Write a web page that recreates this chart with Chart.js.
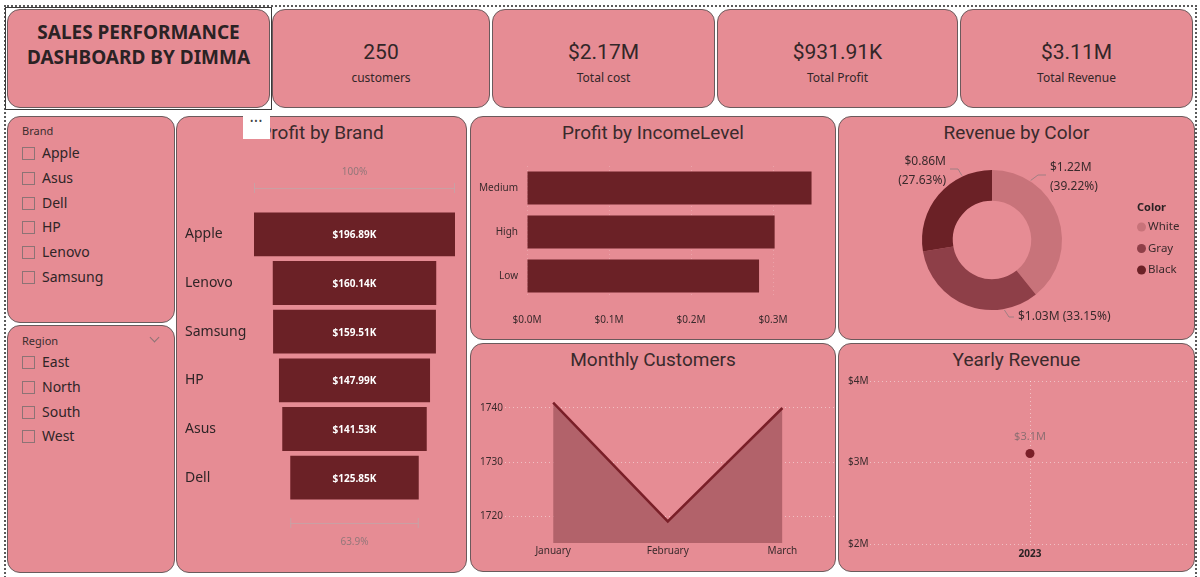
<!DOCTYPE html>
<html>
<head>
<meta charset="utf-8">
<script src="https://cdn.jsdelivr.net/npm/chart.js@4.4.1/dist/chart.umd.min.js"></script>
<style>
  html,body{margin:0;padding:0;background:#fff;}
  body{width:1200px;height:577px;overflow:hidden;position:relative;font-family:"Noto Sans","Open Sans",sans-serif;color:#2f2527;}
  .abs{position:absolute;}
  .card{position:absolute;background:#E68C94;border:1px solid #6b5a5c;border-radius:13px;box-sizing:border-box;}
  .outer{position:absolute;left:4px;top:5px;width:1193px;height:620px;border:2px dotted #5a5a5a;box-sizing:border-box;}
  .sel{position:absolute;left:5px;top:7px;width:267px;height:103px;border:1px solid #3a3a3a;box-sizing:border-box;}
  .ctitle{position:absolute;text-align:center;font-family:Roboto,sans-serif;font-size:19px;color:#3a2a2c;line-height:22px;}
  .kval{position:absolute;text-align:center;font-family:Roboto,sans-serif;font-size:21px;color:#332628;line-height:24px;}
  .klab{position:absolute;text-align:center;font-size:12px;color:#332628;line-height:16px;}
  .head{position:absolute;font-size:11px;color:#3a2c2e;line-height:14px;}
  .item{position:absolute;font-size:14px;color:#2f2527;line-height:18px;}
  .box{position:absolute;width:13px;height:13px;border:1px solid #8d7375;box-sizing:border-box;}
  canvas{position:absolute;}
</style>
</head>
<body>
<div class="outer"></div>
<div id="root"></div>
<canvas id="funnel" width="291" height="410" style="left:176px;top:150px"></canvas>
<canvas id="income" width="366" height="185" style="left:470px;top:150px"></canvas>
<canvas id="donut" width="357" height="185" style="left:838px;top:150px"></canvas>
<canvas id="monthly" width="366" height="190" style="left:470px;top:375px"></canvas>
<canvas id="yearly" width="357" height="192" style="left:838px;top:375px"></canvas>
<div id="more" class="abs" style="left:243px;top:116px;width:27px;height:23px;background:#fff;font-size:9px;line-height:9px;text-align:center;color:#444;letter-spacing:1px;">•••</div>
<div class="abs" style="left:151px;top:334px;width:6px;height:6px;border-right:1px solid #8d7375;border-bottom:1px solid #8d7375;transform:rotate(45deg);"></div>
<script>
// ---------- data ----------
const dashboardTitle = ['SALES PERFORMANCE', 'DASHBOARD BY DIMMA'];
const kpiValues = ['250', '$2.17M', '$931.91K', '$3.11M'];
const kpiLabels = ['customers', 'Total cost', 'Total Profit', 'Total Revenue'];
const slicerBrands = ['Apple', 'Asus', 'Dell', 'HP', 'Lenovo', 'Samsung'];
const slicerRegions = ['East', 'North', 'South', 'West'];
const brands = ['Apple', 'Lenovo', 'Samsung', 'HP', 'Asus', 'Dell'];
const brandProfitK = [196.89, 160.14, 159.51, 147.99, 141.53, 125.85];
const incomeLevels = ['Medium', 'High', 'Low'];
const incomeProfitM = [0.347, 0.302, 0.283];
const incomeTicksM = [0, 0.1, 0.2, 0.3];
const colorNames = ['White', 'Gray', 'Black'];
const colorRevenueM = [1.22, 1.03, 0.86];
const colorSharePct = [39.22, 33.15, 27.63];
const months = ['January', 'February', 'March'];
const monthlyCustomers = [1741, 1719, 1740];
const monthlyTicks = [1720, 1730, 1740];
const years = ['2023'];
const yearlyRevenueM = [3.11];
const yearlyTicksM = [2, 3, 4];

// ---------- layout / styles ----------
const UI = '"Noto Sans","Open Sans",sans-serif';
const DARK = '#6B2126';
const TXT = '#3a2a2c';
const sliceColors = ['#C8737A', '#8E3F48', '#6B2126'];
Chart.defaults.font.family = UI;
Chart.defaults.animation = false;
Chart.defaults.responsive = false;

const root = document.getElementById('root');
function add(cls, style, text) {
  const d = document.createElement('div');
  d.className = cls; d.setAttribute('style', style);
  if (text !== undefined) d.textContent = text;
  root.appendChild(d); return d;
}
const cards = [
  [7,9,263,99],[272,9,218,99],[492,9,223,99],[717,9,241,99],[960,9,233,99],
  [7,116,168,207],[7,325,168,248],[176,116,291,457],
  [470,116,366,224],[838,116,357,224],[470,343,366,229],[838,343,357,229]
];
cards.forEach(c => add('card', `left:${c[0]}px;top:${c[1]}px;width:${c[2]}px;height:${c[3]}px`));
root.appendChild(Object.assign(document.createElement('div'), {className:'sel'}));
dashboardTitle.forEach((t, i) => add('abs', `left:7px;width:263px;top:${20 + i*25}px;text-align:center;font-weight:700;font-size:19px;line-height:24px;color:#2b2224;`, t));
const kpiBoxes = [[272,218],[492,223],[717,241],[960,233]];
kpiValues.forEach((v, i) => {
  add('kval', `left:${kpiBoxes[i][0]}px;width:${kpiBoxes[i][1]}px;top:40px;`, v);
  add('klab', `left:${kpiBoxes[i][0]}px;width:${kpiBoxes[i][1]}px;top:70px;`, kpiLabels[i]);
});
function slicer(title, items, headY, firstY) {
  add('head', `left:22px;top:${headY - 7}px;`, title);
  items.forEach((it, i) => {
    const y = firstY + i * 24.8;
    add('box', `left:22px;top:${Math.round(y - 6)}px;`);
    add('item', `left:42px;top:${Math.round(y - 9)}px;`, it);
  });
}
slicer('Brand', slicerBrands, 131, 153);
slicer('Region', slicerRegions, 341, 362);
add('ctitle', 'left:176px;width:291px;top:122px;', 'Profit by Brand');
add('ctitle', 'left:470px;width:366px;top:122px;', 'Profit by IncomeLevel');
add('ctitle', 'left:838px;width:357px;top:122px;', 'Revenue by Color');
add('ctitle', 'left:470px;width:366px;top:349px;', 'Monthly Customers');
add('ctitle', 'left:838px;width:357px;top:349px;', 'Yearly Revenue');
document.body.appendChild(document.getElementById('more'));

const noPlug = {legend:{display:false}, tooltip:{enabled:false}};
const dotted = () => ({color:'rgba(255,255,255,0.45)', lineWidth:1, drawTicks:false});
const dotBorder = {display:false, dash:[1,3]};

// ---------- funnel ----------
const funnelDecor = {
  id:'funnelDecor',
  afterDatasetsDraw(chart) {
    const {ctx, chartArea:a} = chart;
    const bars = chart.getDatasetMeta(0).data;
    ctx.save();
    ctx.font = 'bold 10px ' + UI; ctx.fillStyle = '#fff';
    ctx.textAlign = 'center'; ctx.textBaseline = 'middle';
    bars.forEach((b, i) => ctx.fillText('$' + brandProfitK[i].toFixed(2) + 'K', (b.x + b.base) / 2, b.y + 1));
    const br = (b, y) => {
      const x1 = Math.min(b.x, b.base), x2 = Math.max(b.x, b.base);
      ctx.beginPath();
      ctx.moveTo(x1 + .5, y - 5); ctx.lineTo(x1 + .5, y + 5);
      ctx.moveTo(x1, y + .5); ctx.lineTo(x2, y + .5);
      ctx.moveTo(x2 - .5, y - 5); ctx.lineTo(x2 - .5, y + 5);
      ctx.stroke();
      return (x1 + x2) / 2;
    };
    ctx.strokeStyle = '#c9a0a4'; ctx.lineWidth = 1;
    const f = bars[0], l = bars[bars.length - 1];
    const c1 = br(f, a.top - 22), c2 = br(l, a.bottom + 21);
    ctx.fillStyle = '#94777a'; ctx.font = '10px ' + UI;
    ctx.fillText('100%', c1, a.top - 38);
    ctx.fillText((brandProfitK[brandProfitK.length - 1] / brandProfitK[0] * 100).toFixed(1) + '%', c2, a.bottom + 40);
    ctx.restore();
  }
};
new Chart(document.getElementById('funnel'), {
  type:'bar',
  data:{labels:brands, datasets:[{data:brandProfitK.map(v => [-v / 2, v / 2]), backgroundColor:DARK, borderWidth:0, barPercentage:0.9, categoryPercentage:1}]},
  options:{
    indexAxis:'y',
    layout:{padding:{left:9, right:12, top:60, bottom:58}},
    plugins:noPlug,
    scales:{
      x:{display:false, min:-brandProfitK[0] / 2, max:brandProfitK[0] / 2},
      y:{grid:{display:false, drawTicks:false}, border:{display:false},
         ticks:{crossAlign:'far', padding:0, color:'#2f2527', font:{size:14}},
         afterFit(s){ s.width = 69; }}
    }
  },
  plugins:[funnelDecor]
});

// ---------- income ----------
new Chart(document.getElementById('income'), {
  type:'bar',
  data:{labels:incomeLevels, datasets:[{data:incomeProfitM, backgroundColor:DARK, borderWidth:0, barPercentage:0.75, categoryPercentage:1}]},
  options:{
    indexAxis:'y',
    layout:{padding:{left:0, right:22, top:16, bottom:0}},
    plugins:noPlug,
    scales:{
      x:{min:0, max:0.35, border:dotBorder,
         grid:Object.assign(dotted(), {color:'rgba(255,255,255,0.2)'}),
         afterBuildTicks(s){ s.ticks = incomeTicksM.map(v => ({value:v})); },
         ticks:{padding:16, color:TXT, font:{size:10}, callback:v => '$' + v.toFixed(1) + 'M'},
         afterFit(s){ s.height = 37; }},
      y:{grid:{display:false, drawTicks:false}, border:{display:false},
         ticks:{padding:9, color:TXT, font:{size:10}},
         afterFit(s){ s.width = 57; }}
    }
  }
});

// ---------- donut ----------
const donutPlace = [
  {ang:-57, tx:58, ty:-72, align:'left', two:true},
  {ang:80, tx:26, ty:77, align:'left', two:false},
  {ang:245, tx:-46, ty:-78, align:'right', two:true}
];
const donutDecor = {
  id:'donutDecor',
  afterDatasetsDraw(chart) {
    const {ctx} = chart;
    const arcs = chart.getDatasetMeta(0).data;
    const cx = arcs[0].x, cy = arcs[0].y, r = arcs[0].outerRadius;
    ctx.save();
    ctx.font = '12px ' + UI; ctx.textBaseline = 'middle';
    ctx.strokeStyle = '#a07f83'; ctx.lineWidth = 1;
    arcs.forEach((a, i) => {
      const p = donutPlace[i];
      const rad = p.ang * Math.PI / 180;
      const sx = cx + (r + 1) * Math.cos(rad), sy = cy + (r + 1) * Math.sin(rad);
      const dir = p.align === 'left' ? 1 : -1;
      const ey = cy + p.ty + (p.two ? 7 : 0);
      const tx = cx + p.tx;
      ctx.beginPath(); ctx.moveTo(sx, sy);
      ctx.lineTo(tx - dir * (p.two ? 12 : 9), ey);
      ctx.lineTo(tx - dir * 4, ey); ctx.stroke();
      ctx.fillStyle = TXT; ctx.textAlign = p.align;
      const v = '$' + colorRevenueM[i].toFixed(2) + 'M', s = '(' + colorSharePct[i].toFixed(2) + '%)';
      if (p.two) { ctx.fillText(v, tx, cy + p.ty); ctx.fillText(s, tx, cy + p.ty + 19); }
      else ctx.fillText(v + ' ' + s, tx, cy + p.ty);
    });
    const lx = chart.chartArea.right + 75;
    ctx.textAlign = 'left';
    ctx.font = 'bold 11px ' + UI; ctx.fillStyle = '#2b2224';
    ctx.fillText('Color', lx, cy - 32);
    ctx.font = '11.5px ' + UI;
    colorNames.forEach((n, i) => {
      const y = cy - 13 + i * 21.5;
      ctx.fillStyle = sliceColors[i];
      ctx.beginPath(); ctx.arc(lx + 4.5, y, 4.5, 0, Math.PI * 2); ctx.fill();
      ctx.fillStyle = '#3a2a2c'; ctx.fillText(n, lx + 11, y);
    });
    ctx.restore();
  }
};
new Chart(document.getElementById('donut'), {
  type:'doughnut',
  data:{labels:colorNames, datasets:[{data:colorRevenueM, backgroundColor:sliceColors, borderWidth:0}]},
  options:{cutout:'56%', layout:{padding:{left:84, right:133, top:20, bottom:25}}, plugins:noPlug},
  plugins:[donutDecor]
});

// ---------- monthly ----------
new Chart(document.getElementById('monthly'), {
  type:'line',
  data:{datasets:[{data:monthlyCustomers.map((v, i) => ({x:i, y:v})), borderColor:'#7A1F28', borderWidth:2.5,
        backgroundColor:'#B2626A', fill:'start', pointRadius:0, tension:0}]},
  options:{
    layout:{padding:{left:10, right:2, top:0, bottom:0}},
    plugins:noPlug,
    scales:{
      x:{type:'linear', min:-0.42, max:2.45, grid:{display:false, drawTicks:false}, border:{display:false},
         afterBuildTicks(s){ s.ticks = months.map((m, i) => ({value:i})); },
         ticks:{padding:2, color:TXT, font:{size:10}, callback:v => months[v]},
         afterFit(s){ s.height = 22; }},
      y:{min:1715, max:1745, border:dotBorder,
         grid:dotted(),
         afterBuildTicks(s){ s.ticks = monthlyTicks.map(v => ({value:v})); },
         ticks:{crossAlign:'far', padding:0, color:TXT, font:{size:10}, callback:v => String(v)},
         afterFit(s){ s.width = 25; }}
    }
  }
});

// ---------- yearly ----------
const yearlyLabel = {
  id:'yearlyLabel',
  afterDatasetsDraw(chart) {
    const {ctx} = chart;
    chart.getDatasetMeta(0).data.forEach((p, i) => {
      ctx.save();
      ctx.font = '11px ' + UI; ctx.fillStyle = '#8e6e72';
      ctx.textAlign = 'center'; ctx.textBaseline = 'middle';
      ctx.fillText('$' + yearlyRevenueM[i].toFixed(1) + 'M', p.x, p.y - 17);
      ctx.restore();
    });
  }
};
// dotted grid lines via canvas dash
const dashGrid = {
  id:'dashGrid',
  beforeDraw(chart){ chart.ctx.save(); },
  afterDraw(chart){ chart.ctx.restore(); }
};
new Chart(document.getElementById('yearly'), {
  type:'line',
  data:{labels:years, datasets:[{data:yearlyRevenueM, showLine:false, pointRadius:4.5, pointBackgroundColor:'#7A1F28', pointBorderWidth:0}]},
  options:{
    layout:{padding:{left:10, right:5, top:0, bottom:0}},
    plugins:noPlug,
    scales:{
      x:{offset:true, border:dotBorder, grid:Object.assign(dotted(), {offset:false}),
         ticks:{padding:4, color:'#2b2224', font:{size:10, weight:'bold'}},
         afterFit(s){ s.height = 23; }},
      y:{min:2, max:4, border:dotBorder, grid:dotted(),
         afterBuildTicks(s){ s.ticks = yearlyTicksM.map(v => ({value:v})); },
         ticks:{crossAlign:'far', padding:0, color:TXT, font:{size:10}, callback:v => '$' + v + 'M'},
         afterFit(s){ s.width = 22; }}
    }
  },
  plugins:[yearlyLabel]
});
</script>
</body>
</html>
